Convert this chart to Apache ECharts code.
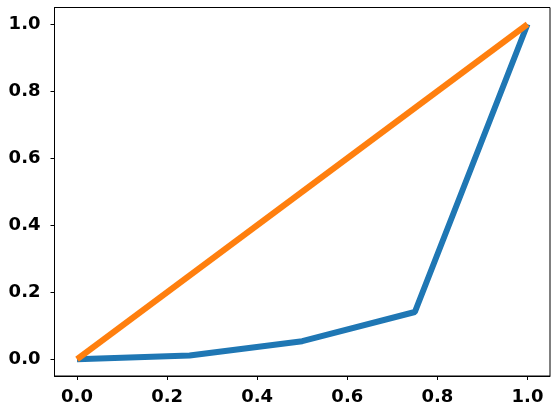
<!DOCTYPE html>
<html>
<head>
<meta charset="utf-8">
<script src="https://cdn.jsdelivr.net/npm/echarts@6/dist/echarts.min.js"></script>
<style>html,body{margin:0;padding:0;background:#fff}#c{width:557px;height:414px}</style>
</head>
<body>
<div id="c"></div>
<script>
const xValues = [0, 0.25, 0.5, 0.75, 1.0];
const blueValues = [0, 0.011, 0.054, 0.141, 1.0];
const orangeX = [0, 1];
const orangeValues = [0, 1];
const tickValues = [0, 0.2, 0.4, 0.6, 0.8, 1.0];

const chart = echarts.init(document.getElementById('c'));
const labelStyle = {
  fontFamily: 'DejaVu Sans',
  fontWeight: 'bold',
  fontSize: 18,
  color: '#000',
  formatter: v => Number(v).toFixed(1)
};
chart.setOption({
  animation: false,
  grid: {left: 54.5, right: 7, top: 7.5, bottom: 38, show: true, borderColor: '#000', borderWidth: 1, containLabel: false},
  xAxis: {
    type: 'value', min: -0.05, max: 1.05,
    splitLine: {show: false},
    axisLine: {show: true, onZero: false, lineStyle: {color: '#000', width: 1}},
    axisTick: {show: true, length: 4, inside: false, customValues: tickValues, lineStyle: {color: '#000'}},
    axisLabel: Object.assign({margin: 12, customValues: tickValues, showMinLabel: true, showMaxLabel: true}, labelStyle)
  },
  yAxis: {
    type: 'value', min: -0.05, max: 1.05,
    splitLine: {show: false},
    axisLine: {show: true, onZero: false, lineStyle: {color: '#000', width: 1}},
    axisTick: {show: true, length: 4, inside: false, customValues: tickValues, lineStyle: {color: '#000'}},
    axisLabel: Object.assign({margin: 14, customValues: tickValues}, labelStyle)
  },
  series: [
    {
      type: 'line', data: xValues.map((x, i) => [x, blueValues[i]]),
      showSymbol: false, lineStyle: {color: '#1f77b4', width: 6}, z: 2
    },
    {
      type: 'line', data: orangeX.map((x, i) => [x, orangeValues[i]]),
      showSymbol: false, lineStyle: {color: '#ff7f0e', width: 6}, z: 3
    }
  ]
});
</script>
</body>
</html>
